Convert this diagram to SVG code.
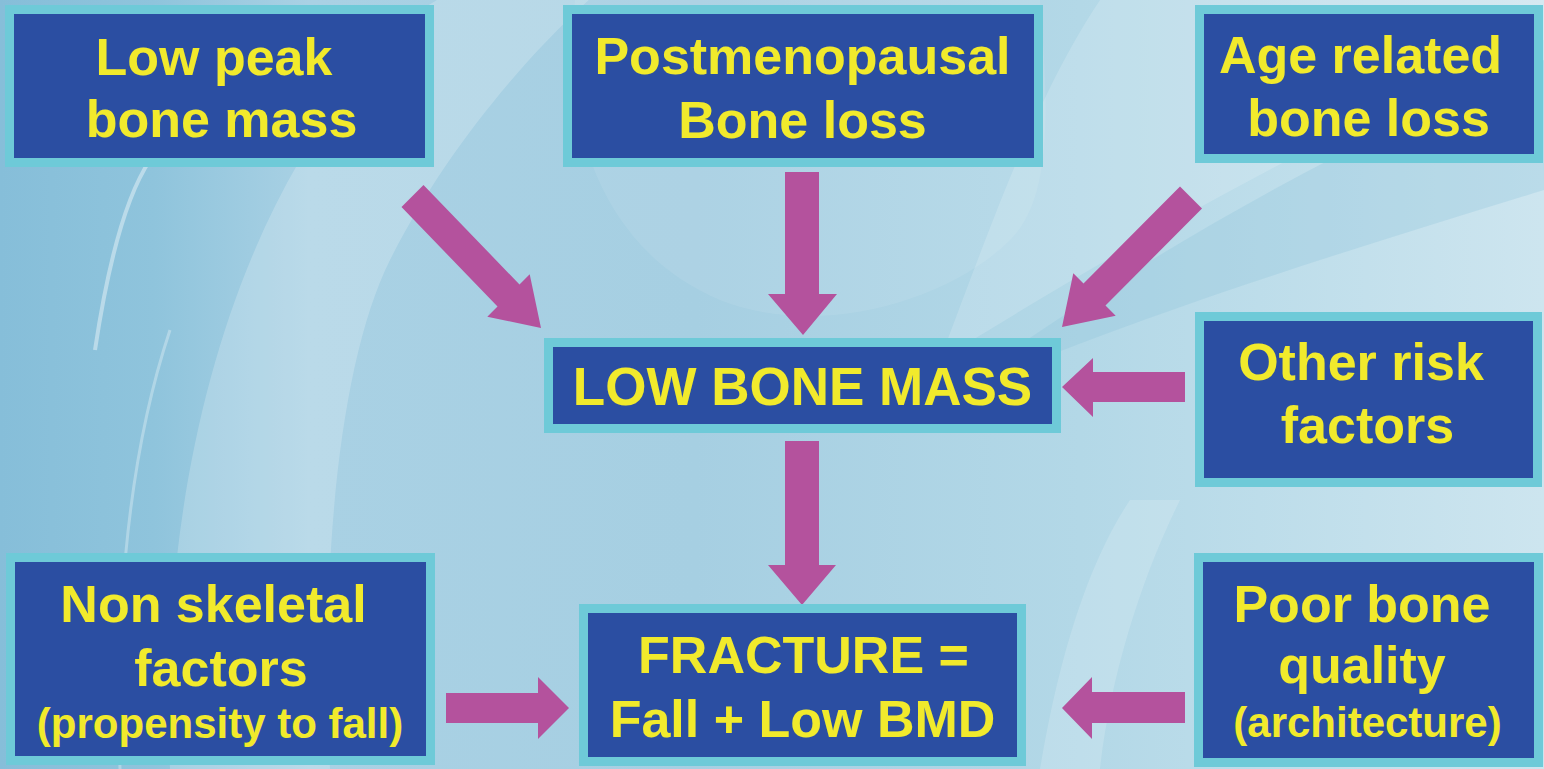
<svg xmlns="http://www.w3.org/2000/svg" width="1544" height="769" viewBox="0 0 1544 769">
<style>
.box{fill:#2B4EA2;stroke:#6ECAD8;stroke-width:9}
.t{font-family:"Liberation Sans",Arial,sans-serif;font-weight:bold;fill:#F1EA2C;text-anchor:middle;font-size:52px}
.s{font-size:42px}
.arr{fill:#B4529D}
</style>
<defs>
<linearGradient id="bg" x1="0" y1="0" x2="1" y2="0">
<stop offset="0" stop-color="#86BED9"/>
<stop offset="0.1" stop-color="#8FC4DC"/>
<stop offset="0.2" stop-color="#A9D1E4"/>
<stop offset="0.45" stop-color="#A6CFE2"/>
<stop offset="0.7" stop-color="#B3D8E7"/>
<stop offset="1" stop-color="#CDE5EF"/>
</linearGradient>
</defs>
<g id="background">
<rect x="0" y="0" width="1544" height="769" fill="url(#bg)"/>
<path d="M170,769 C160,560 200,330 300,160 C360,60 420,0 460,-10 L600,-10 C520,60 440,160 390,260 C340,360 320,560 330,769 Z" fill="#FFFFFF" opacity="0.2"/>
<path d="M95,350 C110,250 130,190 150,160" fill="none" stroke="#FFFFFF" stroke-width="4" opacity="0.4"/>
<path d="M120,769 C115,600 130,450 170,330" fill="none" stroke="#FFFFFF" stroke-width="3" opacity="0.3"/>
<path d="M575,0 C560,120 600,250 720,300 C820,340 950,300 1010,240 C1050,200 1050,120 1040,0 Z" fill="#FFFFFF" opacity="0.08"/>
<path d="M940,360 C1000,200 1040,90 1100,0 L1544,0 L1544,40 C1350,120 1150,230 940,360 Z" fill="#FFFFFF" opacity="0.16"/>
<path d="M940,400 C1150,310 1350,250 1544,190 L1544,60 C1350,140 1150,250 940,400 Z" fill="#8FC5DC" opacity="0.3"/>
<path d="M1040,769 C1060,650 1090,560 1130,500 L1180,500 C1140,580 1110,680 1100,769 Z" fill="#FFFFFF" opacity="0.16"/>
</g>
<g id="connectors">
<polygon class="arr" points="423.5,185 519.5,284.5 529.7,274.3 541,328 487.3,316.7 497.5,306.5 401.5,207"/>
<polygon class="arr" points="785,172 819,172 819,294 837,294 803,335 768,294 785,294"/>
<polygon class="arr" points="1202,208.5 1105.5,305.5 1115.7,315.7 1062,327 1073.3,273.3 1083.5,283.5 1180,186.5"/>
<polygon class="arr" points="1185,372 1185,402 1093,402 1093,417 1062,387 1093,358 1093,372"/>
<polygon class="arr" points="785,441 819,441 819,565 836,565 802,605 768,565 785,565"/>
<polygon class="arr" points="446,693 538,693 538,677 569,708 538,739 538,723 446,723"/>
<polygon class="arr" points="1185,692 1185,723 1092,723 1092,739 1062,708 1092,677 1092,692"/>
</g>
<g id="low-peak">
<rect class="box" x="9.5" y="9.5" width="420" height="153"/>
<text class="t" x="214" y="75">Low peak</text>
<text class="t" x="221.5" y="137">bone mass</text>
</g>
<g id="postmenopausal">
<rect class="box" x="567.5" y="9.5" width="471" height="153"/>
<text class="t" x="802.5" y="74">Postmenopausal</text>
<text class="t" x="802.5" y="138">Bone loss</text>
</g>
<g id="age-related">
<rect class="box" x="1199.5" y="9.5" width="339" height="149"/>
<text class="t" x="1360.5" y="73">Age related</text>
<text class="t" x="1368.5" y="136">bone loss</text>
</g>
<g id="low-bone-mass">
<rect class="box" x="548.5" y="342.5" width="508" height="86"/>
<text class="t" x="802.5" y="405" style="font-size:53px">LOW BONE MASS</text>
</g>
<g id="other-risk">
<rect class="box" x="1199.5" y="316.5" width="338" height="166"/>
<text class="t" x="1361" y="380">Other risk</text>
<text class="t" x="1367.5" y="443">factors</text>
</g>
<g id="non-skeletal">
<rect class="box" x="10.5" y="557.5" width="420" height="203"/>
<text class="t" x="213.5" y="622">Non skeletal</text>
<text class="t" x="221" y="686">factors</text>
<text class="t s" x="220" y="738">(propensity to fall)</text>
</g>
<g id="fracture">
<rect class="box" x="583.5" y="608.5" width="438" height="153"/>
<text class="t" x="803.5" y="673">FRACTURE =</text>
<text class="t" x="802.5" y="737">Fall + Low BMD</text>
</g>
<g id="poor-bone">
<rect class="box" x="1198.5" y="557.5" width="340" height="205"/>
<text class="t" x="1362" y="622">Poor bone</text>
<text class="t" x="1362" y="683">quality</text>
<text class="t s" x="1367.5" y="737">(architecture)</text>
</g>
</svg>
